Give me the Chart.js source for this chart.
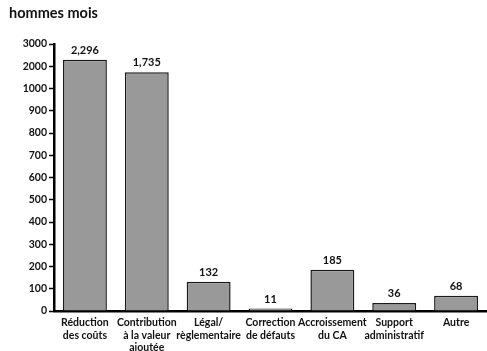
<!DOCTYPE html>
<html>
<head>
<meta charset="utf-8">
<script src="https://cdn.jsdelivr.net/npm/chart.js@4/dist/chart.umd.min.js"></script>
<style>
  html, body { margin: 0; padding: 0; background: #fff; }
  #wrap { width: 487px; height: 351px; position: relative; }
</style>
</head>
<body>
<div id="wrap"><canvas id="c"></canvas></div>
<script>
// Catégories (libellés sur plusieurs lignes)
const categories = [
  ['Réduction', 'des coûts'],
  ['Contribution', 'à la valeur', 'ajoutée'],
  ['Légal/', 'règlementaire'],
  ['Correction', 'de défauts'],
  ['Accroissement', 'du CA'],
  ['Support', 'administratif'],
  ['Autre']
];
// Effort en hommes mois
const hommesMois = [2296, 1735, 132, 11, 185, 36, 68];
// Graduations de l'axe vertical (espacement régulier, échelle brisée au-delà de 1000)
const yTicks = [0, 100, 200, 300, 400, 500, 600, 700, 800, 900, 1000, 2000, 3000];
const unitLabel = 'hommes mois';

const FONT = 'Lato, "Open Sans", sans-serif';

// Échelle linéaire par morceaux : chaque intervalle entre deux graduations occupe la même hauteur
class BrokenLinearScale extends Chart.LinearScale {
  _toUnits(v) {
    const t = this.options.breakTicks;
    if (v <= t[0]) return (v - t[0]) / (t[1] - t[0]);
    for (let i = 0; i < t.length - 1; i++) {
      if (v <= t[i + 1]) return i + (v - t[i]) / (t[i + 1] - t[i]);
    }
    const n = t.length - 1;
    return n + (v - t[n]) / (t[n] - t[n - 1]);
  }
  _fromUnits(u) {
    const t = this.options.breakTicks;
    const n = t.length - 1;
    const i = Math.max(0, Math.min(n - 1, Math.floor(u)));
    return t[i] + (u - i) * (t[i + 1] - t[i]);
  }
  buildTicks() {
    const t = this.options.breakTicks;
    this.min = t[0];
    this.max = t[t.length - 1];
    return t.map(v => ({ value: v }));
  }
  getPixelForValue(value) {
    const n = this.options.breakTicks.length - 1;
    return this.getPixelForDecimal(this._toUnits(value) / n);
  }
  getValueForPixel(pixel) {
    const n = this.options.breakTicks.length - 1;
    return this._fromUnits(this.getDecimalForPixel(pixel) * n);
  }
}
BrokenLinearScale.id = 'brokenLinear';
BrokenLinearScale.defaults = Chart.LinearScale.defaults;
Chart.register(BrokenLinearScale);

// Titre d'unité en haut à gauche
const unitTitle = {
  id: 'unitTitle',
  afterDraw(chart) {
    const ctx = chart.ctx;
    ctx.save();
    ctx.font = 'bold 14.5px ' + FONT;
    ctx.fillStyle = '#111';
    ctx.textAlign = 'left';
    ctx.textBaseline = 'middle';
    ctx.fillText(unitLabel, 9, 13);
    ctx.restore();
  }
};

// Valeurs au-dessus des barres
const valueLabels = {
  id: 'valueLabels',
  afterDatasetsDraw(chart) {
    const ctx = chart.ctx;
    const meta = chart.getDatasetMeta(0);
    const data = chart.data.datasets[0].data;
    ctx.save();
    ctx.font = 'bold 11px ' + FONT;
    ctx.fillStyle = '#111';
    ctx.textAlign = 'center';
    ctx.textBaseline = 'bottom';
    meta.data.forEach((bar, i) => {
      ctx.fillText(data[i].toLocaleString('en-US'), bar.x, bar.y - 4);
    });
    ctx.restore();
  }
};

new Chart(document.getElementById('c'), {
  type: 'bar',
  data: {
    labels: categories,
    datasets: [{
      data: hommesMois,
      backgroundColor: '#999999',
      borderColor: '#1a1a1a',
      borderWidth: 1.5,
      barPercentage: 0.71,
      categoryPercentage: 1.0
    }]
  },
  options: {
    responsive: true,
    maintainAspectRatio: false,
    animation: false,
    layout: { padding: { top: 44, right: -1, left: 0, bottom: 0 } },
    plugins: {
      legend: { display: false },
      tooltip: { enabled: false },
      title: { display: false }
    },
    scales: {
      x: {
        grid: { display: false, drawTicks: false },
        border: { display: true, color: '#000', width: 2.5 },
        ticks: {
          color: '#111',
          font: { family: FONT, size: 10.5, weight: 'bold', lineHeight: 1.15 },
          padding: 6,
          maxRotation: 0,
          autoSkip: false
        },
        afterFit(scale) { scale.height = 40; }
      },
      y: {
        type: 'brokenLinear',
        breakTicks: yTicks,
        min: 0,
        max: 3000,
        grid: {
          display: true,
          drawOnChartArea: false,
          drawTicks: true,
          tickLength: 5,
          tickWidth: 1.5,
          tickColor: '#000'
        },
        border: { display: true, color: '#000', width: 2.5 },
        ticks: {
          color: '#111',
          font: { family: FONT, size: 10.5, weight: 'bold' },
          padding: 2,
          autoSkip: false,
          callback: (v) => String(v)
        },
        afterFit(scale) { scale.width = 54; }
      }
    }
  },
  plugins: [unitTitle, valueLabels]
});
</script>
</body>
</html>
